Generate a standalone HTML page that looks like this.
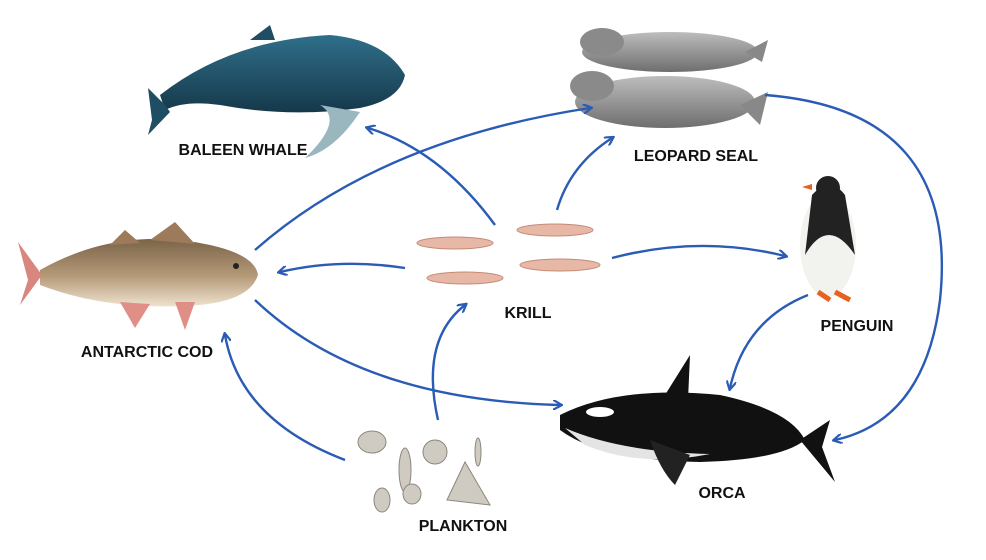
<!DOCTYPE html>
<html><head><meta charset="utf-8"><style>
html,body{margin:0;padding:0;background:#fff}
svg{display:block}
text{font-family:"Liberation Sans Narrow","Liberation Sans",sans-serif;font-weight:bold;font-size:16px;fill:#111;text-anchor:middle}
</style></head><body>
<svg width="986" height="560" viewBox="0 0 986 560" xmlns="http://www.w3.org/2000/svg">
<defs>
<marker id="a" markerWidth="10" markerHeight="10" refX="7" refY="5" orient="auto" markerUnits="userSpaceOnUse">
<path d="M0,0 L9,5 L0,10" fill="none" stroke="#2a5bb5" stroke-width="2.2"/></marker>
<linearGradient id="wh" x1="0" y1="0" x2="0" y2="1"><stop offset="0" stop-color="#2f6f8a"/><stop offset="1" stop-color="#16384a"/></linearGradient>
<linearGradient id="se" x1="0" y1="0" x2="0" y2="1"><stop offset="0" stop-color="#bdbdbd"/><stop offset="1" stop-color="#6e6e6e"/></linearGradient>
<linearGradient id="co" x1="0" y1="0" x2="0" y2="1"><stop offset="0" stop-color="#7a6348"/><stop offset="0.55" stop-color="#b59a78"/><stop offset="1" stop-color="#eee2cf"/></linearGradient>
</defs>
<!-- whale -->
<path d="M160,95 Q230,40 330,35 Q385,40 405,75 Q400,100 360,108 Q290,118 220,105 Q185,100 165,110 Z" fill="url(#wh)"/>
<path d="M165,105 L148,88 L152,120 L148,135 L170,112 Z" fill="#1f4d63"/>
<path d="M320,105 Q345,120 305,158 Q335,150 360,112 Z" fill="#9ab6bf"/>
<path d="M250,40 L270,25 L275,40 Z" fill="#1f4d63"/>
<!-- seals -->
<ellipse cx="670" cy="52" rx="88" ry="20" fill="url(#se)"/>
<ellipse cx="602" cy="42" rx="22" ry="14" fill="#8a8a8a"/>
<path d="M745,52 L768,40 L762,62 Z" fill="#888"/>
<ellipse cx="665" cy="102" rx="90" ry="26" fill="url(#se)"/>
<ellipse cx="592" cy="86" rx="22" ry="15" fill="#8a8a8a"/>
<path d="M740,105 L768,92 L760,125 Z" fill="#888"/>
<!-- cod -->
<path d="M40,270 Q120,225 210,245 Q255,255 258,275 Q250,300 200,305 Q110,312 40,285 Z" fill="url(#co)"/>
<path d="M42,275 L18,242 L28,280 L20,305 Z" fill="#d9867e"/>
<path d="M110,245 L125,230 L140,243 Z M150,240 L175,222 L195,244 Z" fill="#9c7a5a"/>
<path d="M120,302 L135,328 L150,304 Z M175,302 L185,330 L195,302 Z" fill="#e08f87"/>
<circle cx="236" cy="266" r="3" fill="#222"/>
<!-- krill -->
<g fill="#e7b8a6" stroke="#c58a78" stroke-width="1">
<ellipse cx="455" cy="243" rx="38" ry="6"/><ellipse cx="555" cy="230" rx="38" ry="6"/>
<ellipse cx="465" cy="278" rx="38" ry="6"/><ellipse cx="560" cy="265" rx="40" ry="6"/>
</g>
<!-- penguin -->
<ellipse cx="828" cy="245" rx="28" ry="52" fill="#f2f2ee"/>
<path d="M812,195 Q830,175 845,195 L855,255 Q828,215 805,255 Z" fill="#222"/>
<circle cx="828" cy="188" r="12" fill="#222"/>
<path d="M812,184 L802,187 L812,190 Z" fill="#e8611e"/>
<path d="M818,292 L830,300 M835,292 L850,300" stroke="#e8611e" stroke-width="5"/>
<!-- orca -->
<path d="M560,415 Q620,385 720,395 Q790,410 805,440 Q780,460 700,462 Q600,460 560,430 Z" fill="#111"/>
<path d="M665,395 L690,355 L688,400 Z" fill="#111"/>
<path d="M800,440 L830,420 L822,447 L835,482 Z" fill="#111"/>
<path d="M565,428 Q620,452 710,454 Q640,468 585,445 Z" fill="#e4e4e4"/>
<ellipse cx="600" cy="412" rx="14" ry="5" fill="#fff"/>
<path d="M650,440 Q660,470 675,485 L690,455 Z" fill="#222"/>
<!-- plankton -->
<g fill="#cfcbc2" stroke="#8c877e">
<ellipse cx="372" cy="442" rx="14" ry="11"/><ellipse cx="405" cy="470" rx="6" ry="22"/>
<circle cx="435" cy="452" r="12"/><path d="M447,500 L465,462 L490,505 Z"/>
<ellipse cx="382" cy="500" rx="8" ry="12"/><ellipse cx="412" cy="494" rx="9" ry="10"/>
<ellipse cx="478" cy="452" rx="3" ry="14"/>
</g>
<!-- arrows -->
<g fill="none" stroke="#2a5bb5" stroke-width="2.4" marker-end="url(#a)">
<path d="M495,225 Q440,150 368,128"/>
<path d="M557,210 Q570,165 612,138"/>
<path d="M255,250 Q380,140 590,108"/>
<path d="M405,268 Q340,258 280,272"/>
<path d="M612,258 Q700,235 785,256"/>
<path d="M765,95 Q960,110 940,300 Q925,420 835,440"/>
<path d="M808,295 Q745,320 730,388"/>
<path d="M255,300 Q360,400 560,405"/>
<path d="M438,420 Q420,340 465,305"/>
<path d="M345,460 Q240,420 225,335"/>
</g>
<!-- labels -->
<text x="243" y="155">BALEEN WHALE</text>
<text x="696" y="161">LEOPARD SEAL</text>
<text x="528" y="318">KRILL</text>
<text x="857" y="331">PENGUIN</text>
<text x="147" y="357">ANTARCTIC COD</text>
<text x="722" y="498">ORCA</text>
<text x="463" y="531">PLANKTON</text>
</svg>
</body></html>
